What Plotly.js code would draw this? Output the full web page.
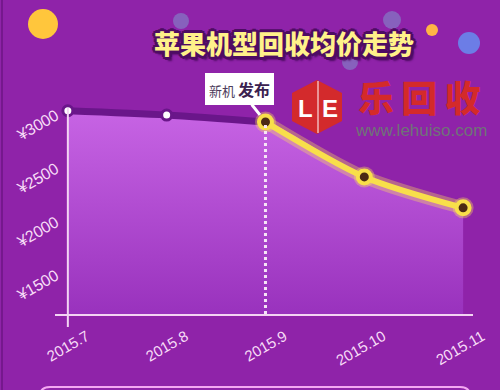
<!DOCTYPE html>
<html>
<head>
<meta charset="utf-8">
<script src="https://cdn.plot.ly/plotly-3.0.1.min.js"></script>
<style>
  html, body { margin: 0; padding: 0; background: #8f23a9; }
  #chart { width: 500px; height: 390px; }
</style>
</head>
<body>
<div id="chart"></div>
<script>
// Average recycle price of Apple handsets, by month
const months = ['2015.7', '2015.8', '2015.9', '2015.10', '2015.11'];
const prices = [3030, 2990, 2925, 2410, 2120];
const yTickVals = [1500, 2000, 2500, 3000];
const yTickText = ['¥1500', '¥2000', '¥2500', '¥3000'];
const releaseIndex = 2;               // month the new model was released
const titleText = '苹果机型回收均价走势';
const releaseText = '<span style="font-size:13px;color:#4d3d5c">新机</span> <b style="font-size:16px;color:#3a2150">发布</b>';

const W = 500, H = 390;
const fx = x => x / W;
const fy = y => 1 - y / H;

const yRange = [1125, 3131];
const xRange = [-0.13, 4.1];

const before = { x: months.slice(0, releaseIndex + 1), y: prices.slice(0, releaseIndex + 1) };
const after = { x: months.slice(releaseIndex), y: prices.slice(releaseIndex) };

const traces = [
  { // shaded area under the price curve
    x: months, y: prices, type: 'scatter', mode: 'lines',
    line: { width: 0, shape: 'spline', smoothing: 0.8 },
    fill: 'tozeroy',
    fillgradient: { type: 'vertical', start: yRange[0], stop: prices[0],
      colorscale: [[0, '#9932bd'], [1, '#c764e4']] },
    hoverinfo: 'skip'
  },
  { // months before the release
    x: before.x, y: before.y, type: 'scatter', mode: 'lines+markers',
    line: { color: '#6a168a', width: 7, shape: 'spline', smoothing: 0.8 },
    marker: { size: 10, color: '#ffffff', line: { color: '#6a168a', width: 3 } },
    cliponaxis: false
  },
  { // soft glow under the post-release segment
    x: after.x, y: after.y, type: 'scatter', mode: 'lines+markers',
    line: { color: 'rgba(255,226,90,0.35)', width: 13, shape: 'spline', smoothing: 0.8 },
    marker: { size: 21, color: 'rgba(255,226,90,0.35)' },
    cliponaxis: false
  },
  { // months after the release
    x: after.x, y: after.y, type: 'scatter', mode: 'lines+markers',
    line: { color: '#f8df4a', width: 6, shape: 'spline', smoothing: 0.8 },
    marker: { size: 13, color: '#4a2a14', line: { color: '#f8df4a', width: 4 } },
    cliponaxis: false
  }
];

function circle(cx, cy, r, color) {
  return { type: 'circle', xref: 'paper', yref: 'paper', layer: 'below',
    x0: fx(cx - r), x1: fx(cx + r), y0: fy(cy + r), y1: fy(cy - r),
    fillcolor: color, line: { width: 0 } };
}
function pathShape(points, fill, lineColor, lineWidth) {
  const d = points.map((p, i) => (i ? 'L' : 'M') + fx(p[0]) + ',' + fy(p[1])).join(' ') + ' Z';
  return { type: 'path', xref: 'paper', yref: 'paper', path: d,
    fillcolor: fill, line: { color: lineColor || fill, width: lineWidth || 0 } };
}

const shapes = [
  // decorative bubbles
  circle(43, 24, 15, '#ffc63c'),
  circle(181, 21, 8, 'rgba(120,215,225,0.35)'),
  circle(392, 20, 9, 'rgba(120,215,225,0.35)'),
  circle(350, 62, 8, 'rgba(120,215,225,0.35)'),
  circle(432, 30, 6, '#ffb545'),
  circle(469, 43, 11, '#6c7de6'),
  // frame edge and the card below
  { type: 'line', xref: 'paper', yref: 'paper', x0: fx(2), x1: fx(2), y0: 0, y1: 1,
    line: { color: '#6d1684', width: 1.5 } },
  { type: 'path', xref: 'paper', yref: 'paper',
    path: 'M' + fx(40) + ',' + fy(396) + ' Q' + fx(40) + ',' + fy(387) + ' ' + fx(50) + ',' + fy(387) +
          ' L' + fx(460) + ',' + fy(387) + ' Q' + fx(470) + ',' + fy(387) + ' ' + fx(470) + ',' + fy(396),
    line: { color: '#f4a8f2', width: 2 } },
  // vertical axis line, overshooting below the month axis
  { type: 'line', xref: 'x', yref: 'paper', x0: 0, x1: 0, y0: fy(327), y1: fy(108),
    line: { color: '#f3d4f3', width: 2 } },
  // dashed marker at the release month
  { type: 'line', xref: 'x', yref: 'y', x0: releaseIndex, x1: releaseIndex,
    y0: yRange[0], y1: prices[releaseIndex],
    line: { color: '#f6e6f6', width: 3, dash: 'dot' } },
  // logo hexagon
  pathShape([[317, 80], [342, 93], [342, 121], [317, 134], [292, 121], [292, 93]], '#d32a2c'),
  { type: 'line', xref: 'paper', yref: 'paper', x0: fx(318), x1: fx(318), y0: fy(81), y1: fy(133),
    line: { color: '#ffffff', width: 1 } }
];

const cjk = '"Noto Sans CJK SC", "Noto Sans", sans-serif';
const outline = '#4e0c63';
const titleShadow = [
  '3px 0 0 ' + outline, '-3px 0 0 ' + outline, '0 3px 0 ' + outline, '0 -3px 0 ' + outline,
  '2px 2px 0 ' + outline, '-2px -2px 0 ' + outline, '2px -2px 0 ' + outline, '-2px 2px 0 ' + outline,
  '3px 4px 2px ' + outline
].join(', ');

function label(x, y, text, font) {
  return { xref: 'paper', yref: 'paper', x: fx(x), y: fy(y), xanchor: 'center', yanchor: 'middle',
    text: text, showarrow: false, font: font };
}

const annotations = [
  label(284, 42, titleText, { family: cjk, size: 26, weight: 900, color: '#fff28a', shadow: titleShadow }),
  { xref: 'x', yref: 'y', x: releaseIndex, y: prices[releaseIndex],
    xanchor: 'center', yanchor: 'middle',
    text: releaseText, showarrow: true, ax: -26, ay: -33,
    arrowhead: 0, arrowwidth: 3, arrowcolor: '#ffffff', standoff: 9,
    bgcolor: '#ffffff', bordercolor: '#ffffff', borderpad: 3,
    font: { family: cjk, size: 13, color: '#3a2150' } },
  // logo text
  label(305, 108, '<b>L</b>', { family: 'Liberation Sans, Arial, sans-serif', size: 24, color: '#ffffff' }),
  label(330, 108, '<b>E</b>', { family: 'Liberation Sans, Arial, sans-serif', size: 24, color: '#ffffff' }),
  label(419, 96, '乐\u2009回\u2009收', { family: cjk, size: 36, weight: 900, color: '#d42a2a' }),
  label(421, 131, 'www.lehuiso.com', { family: 'Liberation Sans, Arial, sans-serif', size: 17, color: '#6f7378' })
];

const tickFont = { family: 'Liberation Sans, Arial, sans-serif', size: 15, color: '#f7dcf7' };

const layout = {
  width: W, height: H,
  margin: { l: 0, r: 0, t: 0, b: 0 },
  paper_bgcolor: '#8f23a9',
  plot_bgcolor: 'rgba(0,0,0,0)',
  showlegend: false,
  hovermode: false,
  xaxis: {
    type: 'category', range: xRange,
    domain: [fx(55), fx(473)],
    showgrid: false, zeroline: false,
    showline: true, linecolor: '#f3d4f3', linewidth: 2,
    ticks: '', tickangle: -30, tickfont: tickFont,
    ticklabelstandoff: 6, ticklabelshift: 19
  },
  yaxis: {
    range: yRange,
    domain: [fy(314), fy(100)],
    anchor: 'free', position: fx(68),
    showgrid: false, zeroline: false, showline: false,
    ticks: '', tickvals: yTickVals, ticktext: yTickText,
    tickangle: -30, tickfont: Object.assign({}, tickFont, { size: 16 }),
    ticklabelstandoff: 12
  },
  shapes: shapes,
  annotations: annotations
};

Plotly.newPlot('chart', traces, layout, { staticPlot: true, displayModeBar: false });
</script>
</body>
</html>
